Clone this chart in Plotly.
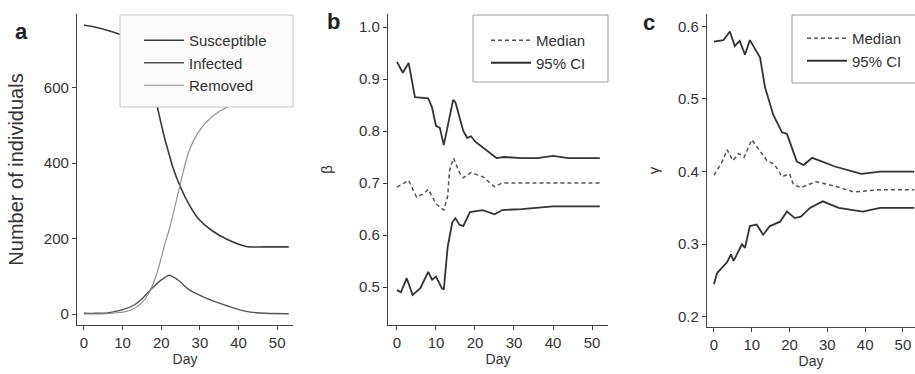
import plotly.graph_objects as go

# ---------------- Panel a: SIR curves ----------------
a_days = [0, 3, 6, 9, 11, 13, 15, 17, 19, 21, 22, 23, 25, 27, 29.5, 33, 37, 42, 47, 53]
susceptible = [765, 760, 752, 742, 734, 718, 690, 637, 548, 461, 425, 389, 336, 294, 254, 222, 198, 179, 178, 178]
infected = [2, 2, 3, 9, 15, 24, 40, 62, 82, 97, 103, 99, 85, 66, 52, 36, 22, 7, 2, 1]
removed = [0, 0, 1, 4, 7, 15, 30, 60, 112, 188, 222, 262, 347, 426, 480, 522, 548, 565, 575, 582]

# ---------------- Panel b: beta ----------------
b_up_days = [0, 1.5, 3, 4.6, 8, 9, 10, 11, 12, 14.4, 15, 17, 18, 19, 20, 23, 25.5, 27.5, 32, 36, 40, 44, 52]
b_upper = [0.933, 0.912, 0.931, 0.865, 0.863, 0.845, 0.81, 0.806, 0.773, 0.86, 0.855, 0.80, 0.787, 0.79, 0.78, 0.762, 0.748, 0.75, 0.748, 0.748, 0.752, 0.748, 0.748]
b_lo_days = [0, 1, 2.5, 4, 6, 8, 9, 10, 11.5, 12, 13, 14.2, 15, 16, 17, 18.7, 22, 25, 27, 32, 40, 52]
b_lower = [0.494, 0.49, 0.517, 0.485, 0.498, 0.529, 0.514, 0.52, 0.498, 0.495, 0.577, 0.625, 0.632, 0.62, 0.617, 0.644, 0.648, 0.64, 0.648, 0.65, 0.655, 0.655]
b_med_days = [0, 2, 3, 5, 7, 8, 10, 12, 13, 13.5, 14.5, 16, 17, 19, 22, 25, 27, 32, 40, 52]
b_median = [0.692, 0.70, 0.705, 0.673, 0.68, 0.688, 0.66, 0.648, 0.675, 0.725, 0.748, 0.72, 0.71, 0.72, 0.712, 0.693, 0.70, 0.70, 0.70, 0.70]

# ---------------- Panel c: gamma ----------------
c_up_days = [0, 2.5, 4.2, 5.5, 6.8, 8.2, 9.5, 12.2, 13.5, 15.7, 18, 19.3, 21.9, 23.7, 26, 28.6, 32, 39, 44, 53]
c_upper = [0.579, 0.581, 0.593, 0.573, 0.58, 0.561, 0.581, 0.557, 0.516, 0.478, 0.454, 0.452, 0.414, 0.409, 0.419, 0.414, 0.407, 0.397, 0.40, 0.40]
c_med_days = [0, 2, 3.5, 5, 6.5, 8, 10, 12, 14, 16, 18, 20, 21, 23, 25, 27, 32, 37, 44, 53]
c_median = [0.395, 0.412, 0.43, 0.415, 0.425, 0.42, 0.444, 0.43, 0.415, 0.41, 0.393, 0.397, 0.382, 0.378, 0.382, 0.386, 0.38, 0.372, 0.375, 0.375]
c_lo_days = [0, 0.8, 3.4, 4.5, 5.2, 7.4, 8.2, 9.5, 11.3, 13, 14.8, 17.5, 19.3, 21.4, 23, 25.4, 28.8, 33, 39.4, 44, 53]
c_lower = [0.245, 0.26, 0.275, 0.286, 0.277, 0.30, 0.295, 0.325, 0.327, 0.313, 0.325, 0.331, 0.345, 0.336, 0.338, 0.35, 0.359, 0.35, 0.345, 0.35, 0.35]

x_ticks = [0, 10, 20, 30, 40, 50]
a_yticks = [0, 200, 400, 600]
b_yticks = [0.5, 0.6, 0.7, 0.8, 0.9, 1.0]
c_yticks = [0.2, 0.3, 0.4, 0.5, 0.6]

W, H = 915, 374
FONT = "Liberation Sans, Arial, sans-serif"
INK = "#333333"

def px(x):
    return x / W

def py(y):
    return 1 - y / H

fig = go.Figure()

# Panel a
fig.add_trace(go.Scatter(x=a_days, y=susceptible, name="Susceptible", mode="lines",
                         line=dict(color="#3a3a3a", width=1.6, shape="spline", smoothing=0.8),
                         xaxis="x", yaxis="y", legend="legend"))
fig.add_trace(go.Scatter(x=a_days, y=infected, name="Infected", mode="lines",
                         line=dict(color="#555555", width=1.4, shape="spline", smoothing=0.8),
                         xaxis="x", yaxis="y", legend="legend"))
fig.add_trace(go.Scatter(x=a_days, y=removed, name="Removed", mode="lines",
                         line=dict(color="#8a8a8a", width=1.1, shape="spline", smoothing=0.8),
                         xaxis="x", yaxis="y", legend="legend"))

# Panel b
fig.add_trace(go.Scatter(x=b_med_days, y=b_median, name="Median", mode="lines",
                         line=dict(color="#555555", width=1.5, dash="4px,3px"),
                         xaxis="x2", yaxis="y2", legend="legend2"))
fig.add_trace(go.Scatter(x=b_up_days, y=b_upper, name="95% CI", mode="lines",
                         line=dict(color="#333333", width=1.8),
                         xaxis="x2", yaxis="y2", legend="legend2", legendgroup="bci"))
fig.add_trace(go.Scatter(x=b_lo_days, y=b_lower, name="95% CI", mode="lines",
                         line=dict(color="#333333", width=1.8), showlegend=False,
                         xaxis="x2", yaxis="y2", legend="legend2", legendgroup="bci"))

# Panel c
fig.add_trace(go.Scatter(x=c_med_days, y=c_median, name="Median", mode="lines",
                         line=dict(color="#555555", width=1.5, dash="4px,3px"),
                         xaxis="x3", yaxis="y3", legend="legend3"))
fig.add_trace(go.Scatter(x=c_up_days, y=c_upper, name="95% CI", mode="lines",
                         line=dict(color="#333333", width=1.8),
                         xaxis="x3", yaxis="y3", legend="legend3", legendgroup="cci"))
fig.add_trace(go.Scatter(x=c_lo_days, y=c_lower, name="95% CI", mode="lines",
                         line=dict(color="#333333", width=1.8), showlegend=False,
                         xaxis="x3", yaxis="y3", legend="legend3", legendgroup="cci"))

axis_common = dict(showline=True, linecolor="#444444", linewidth=1.2, ticks="outside",
                   ticklen=4, tickwidth=1.2, tickcolor="#444444", showgrid=False,
                   zeroline=False, automargin=False,
                   tickfont=dict(family=FONT, size=15, color=INK))

xtitle = dict(text="Day", font=dict(family=FONT, size=14, color=INK), standoff=0)

legend_common = dict(xanchor="left", yanchor="top", bgcolor="rgba(0,0,0,0)",
                     font=dict(family=FONT, size=15, color=INK), tracegroupgap=0,
                     itemwidth=40)

fig.update_layout(
    width=W, height=H, margin=dict(l=0, r=0, t=0, b=0),
    paper_bgcolor="white", plot_bgcolor="white",
    font=dict(family=FONT, color=INK),
    xaxis=dict(domain=[px(77), px(293)], range=[-1.8, 54.1], tickvals=x_ticks,
               anchor="y", title=xtitle, **axis_common),
    yaxis=dict(domain=[py(325), py(14)], range=[-29, 795], tickvals=a_yticks, anchor="x",
               title=dict(text="Number of individuals", font=dict(family=FONT, size=20, color=INK), standoff=14),
               **axis_common),
    xaxis2=dict(domain=[px(388), px(608)], range=[-2.3, 54.1], tickvals=x_ticks,
                anchor="y2", title=xtitle, **axis_common),
    yaxis2=dict(domain=[py(325), py(14)], range=[0.427, 1.025], tickvals=b_yticks, tickformat=".1f",
                anchor="x2", title=dict(text="β", font=dict(family=FONT, size=15, color=INK), standoff=22),
                **axis_common),
    xaxis3=dict(domain=[px(707), 1.0], range=[-1.85, 53.2], tickvals=x_ticks,
                anchor="y3", title=xtitle, **axis_common),
    yaxis3=dict(domain=[py(327), py(14)], range=[0.186, 0.617], tickvals=c_yticks, tickformat=".1f",
                anchor="x3", title=dict(text="γ", font=dict(family=FONT, size=15, color=INK), standoff=14),
                **axis_common),
    legend=dict(x=px(139), y=py(24), **legend_common),
    legend2=dict(x=px(486), y=py(24), **legend_common),
    legend3=dict(x=px(802), y=py(22), **legend_common),
    showlegend=True,
)

# legend boxes (drawn above the data lines, under the legend text)
fig.add_shape(type="rect", xref="paper", yref="paper", x0=px(120), x1=px(293), y0=py(107), y1=py(15),
              line=dict(color="#c8c8c8", width=1), fillcolor="#fafafa", layer="above")
fig.add_shape(type="rect", xref="paper", yref="paper", x0=px(473), x1=px(608), y0=py(82), y1=py(15),
              line=dict(color="#9a9a9a", width=1), fillcolor="white", layer="above")
fig.add_shape(type="rect", xref="paper", yref="paper", x0=px(792), x1=px(930), y0=py(83), y1=py(15),
              line=dict(color="#9a9a9a", width=1), fillcolor="white", layer="above")

# panel letters
for letter, lx, ly in [("a", 21, 31), ("b", 333, 21), ("c", 649, 22)]:
    fig.add_annotation(text="<b>%s</b>" % letter, x=px(lx), y=py(ly), xref="paper", yref="paper",
                       showarrow=False, font=dict(family=FONT, size=22, color="#222222"),
                       xanchor="center", yanchor="middle")

fig.write_html("out.html", config={"displayModeBar": False},
               post_script="document.body.style.margin='0';document.body.style.padding='0';")
